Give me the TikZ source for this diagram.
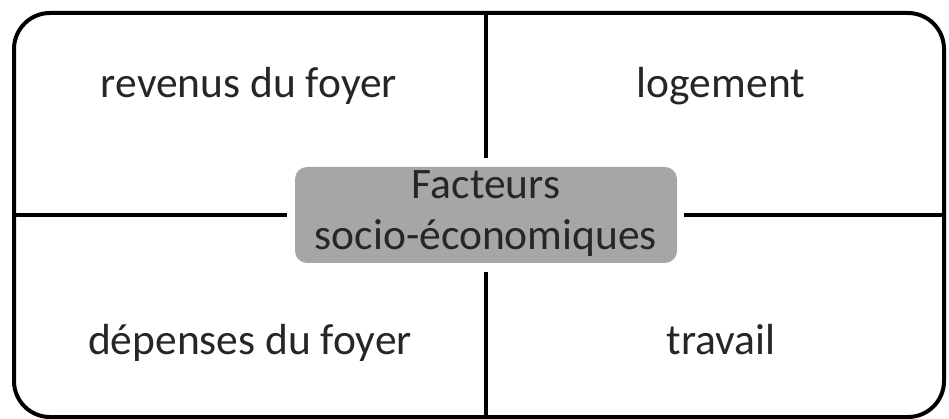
\documentclass[tikz,border=0pt]{standalone}
\usepackage{fontspec}
\setmainfont{Carlito}
\definecolor{txt}{HTML}{262626}
\definecolor{boxgray}{HTML}{A6A6A6}
\begin{document}
\begin{tikzpicture}[x=1pt,y=-1pt,
  lbl/.style={font=\fontsize{43.5}{51}\selectfont, text=txt, inner sep=0pt, anchor=base},
  ln/.style={line width=4pt, black}]
\useasboundingbox (0,0) rectangle (949,419);
\draw[line width=4pt, rounded corners=36pt] (14,13) rectangle (944,417);
\node[fill=boxgray, rounded corners=12pt, minimum width=382pt, minimum height=96pt, inner sep=0pt] (c) at (486,215) {};
\node[lbl] (t1) at (486,199) {Facteurs};
\node[lbl] (t2) at (486,250) {socio-économiques};
\coordinate (top) at (486,13);
\coordinate (bot) at (486,417);
\coordinate (lft) at (14,215);
\coordinate (rgt) at (944,215);
\coordinate (ct) at (486,158);
\coordinate (cb) at (486,272);
\coordinate (cl) at (287,215);
\coordinate (cr) at (684,215);
\draw[ln] (top) -- (ct);
\draw[ln] (cb) -- (bot);
\draw[ln] (lft) -- (cl);
\draw[ln] (cr) -- (rgt);
\node[lbl] (a) at (249,98) {revenus du foyer};
\node[lbl] (b) at (721,98) {logement};
\node[lbl] (d) at (250,354) {dépenses du foyer};
\node[lbl] (e) at (721,354) {travail};
\end{tikzpicture}
\end{document}
